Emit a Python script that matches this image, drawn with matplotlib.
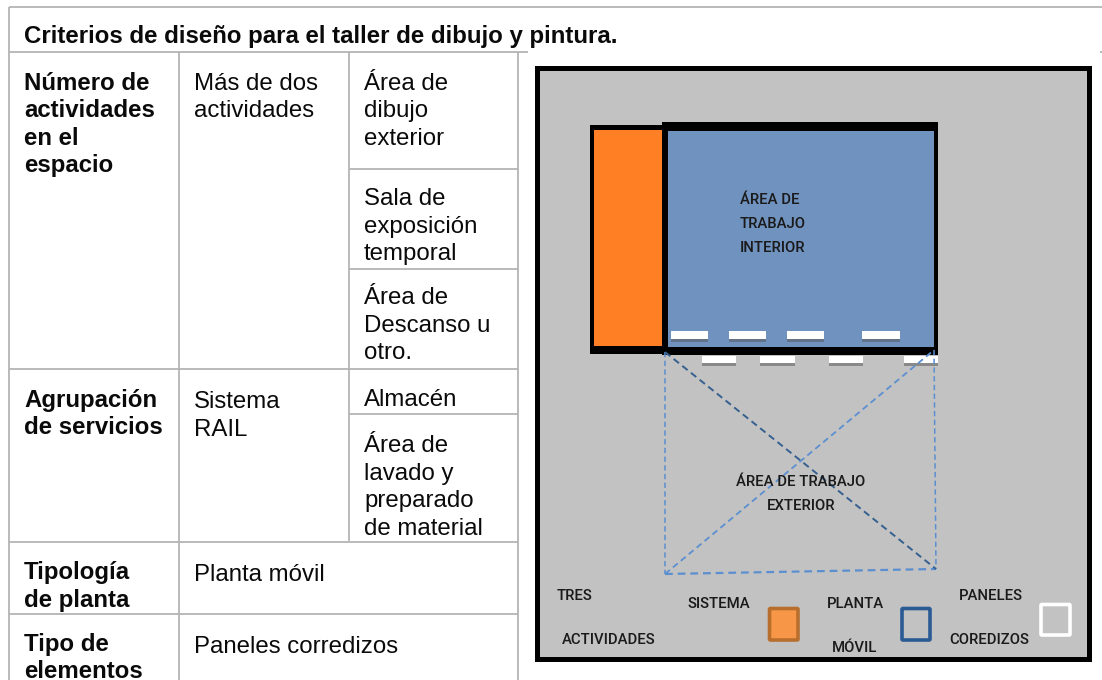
"""Criterios de diseno: tabla y esquema en planta."""
import matplotlib
matplotlib.use("Agg")
import matplotlib.pyplot as plt
from matplotlib.patches import Rectangle, FancyBboxPatch

W, H = 1102, 680
SANS = "Liberation Sans"
LABEL_FONT = "Roboto"
GRID = "#b4b4b4"
BLUE_DASH = "#5b8fd0"

title = "Criterios de diseño para el taller de dibujo y pintura."
bold_cells = ["Número de\nactividades\nen el\nespacio", "Agrupación\nde servicios", "Tipología\nde planta", "Tipo de\nelementos"]
bold_base = [89.5, 406.5, 579, 650.5]
mid_cells = ["Más de dos\nactividades", "Sistema\nRAIL", "Planta móvil", "Paneles corredizos"]
mid_base = [89.5, 408, 581, 653]
right_cells = ["Área de\ndibujo\nexterior", "Sala de\nexposición\ntemporal", "Área de\nDescanso u\notro.", "Almacén", "Área de\nlavado y\npreparado\nde material"]
right_base = [89.5, 205, 304, 406, 452]

# grid lines: (x0, y0, x1, y1)
grid_lines = [
    (9, 7, 1102, 7), (9, 7, 9, 680), (9, 52, 528, 52), (1100, 52, 1102, 52),
    (179, 52, 179, 680), (349, 52, 349, 541), (518, 52, 518, 680),
    (349, 169, 518, 169), (349, 269, 518, 269), (9, 369, 518, 369),
    (349, 414, 518, 414), (9, 541.5, 518, 541.5), (9, 614, 518, 614),
]

orange_room = (594, 130, 68, 216)
blue_room = (668, 131, 266, 216)
black_frames = [(590, 125, 78, 229), (662, 122, 276, 233)]
panels_in = [(671, 331, 37, 8), (729, 331, 37, 8), (787, 331, 37, 8), (862, 331, 38, 8)]
panels_out = [(702, 356, 34, 7), (760, 356, 35, 7), (829, 356, 34, 7), (904, 356, 34, 7)]

ext_corners = {"tl": (665, 352), "tr": (934, 350), "bl": (665, 574), "br": (936, 569)}

plan_labels = [
    ("ÁREA DE", 740, 199, "left"), ("TRABAJO", 740, 223, "left"), ("INTERIOR", 740, 246, "left"),
    ("ÁREA DE TRABAJO", 801, 481, "center"), ("EXTERIOR", 801, 504, "center"),
    ("TRES", 557, 595, "left"), ("ACTIVIDADES", 562, 639, "left"),
    ("SISTEMA", 688, 602, "left"), ("PLANTA", 827, 602, "left"), ("MÓVIL", 832, 647, "left"),
    ("PANELES", 959, 595, "left"), ("COREDIZOS", 949, 639, "left"),
]
# legend squares: (x, y, w, h, fill, edge)
legend_boxes = [
    (769.5, 608.5, 28.5, 31.5, "#f79646", "#b86f2e"),
    (902, 608.5, 28, 31.5, "#c2c2c2", "#2a5a94"),
    (1041, 604.5, 29, 30.5, "#c2c2c2", "#ffffff"),
]

fig = plt.figure(figsize=(W / 100, H / 100), dpi=100)
ax = fig.add_axes([0, 0, 1, 1])
ax.set_xlim(0, W)
ax.set_ylim(H, 0)
ax.axis("off")


def multiline(x, base, txt, weight="normal"):
    for i, line in enumerate(txt.split("\n")):
        ax.text(x, base + i * 27.6, line, family=SANS, fontsize=17.3, fontweight=weight,
                color="#0a0a0a", ha="left", va="baseline")


for x0, y0, x1, y1 in grid_lines:
    ax.plot([x0, x1], [y0, y1], color=GRID, lw=1.3, solid_capstyle="butt")

ax.text(24, 42.5, title, family=SANS, fontsize=17.3, fontweight="bold", color="#0a0a0a", va="baseline")
for txt, base in zip(bold_cells, bold_base):
    multiline(24, base, txt, "bold")
for txt, base in zip(mid_cells, mid_base):
    multiline(194, base, txt)
for txt, base in zip(right_cells, right_base):
    multiline(364, base, txt)

# plano
ax.add_patch(Rectangle((536.5, 67.5), 552, 591, fc="#c2c2c2", ec="black", lw=3.6, zorder=2))
for x, y, w, h in black_frames:
    ax.add_patch(Rectangle((x, y), w, h, fc="black", ec="none", zorder=3))
ax.add_patch(Rectangle(orange_room[:2], *orange_room[2:], fc="#ff8024", ec="none", zorder=4))
ax.add_patch(Rectangle(blue_room[:2], *blue_room[2:], fc="#7092bf", ec="none", zorder=4))
for x, y, w, h in panels_in + panels_out:
    ax.add_patch(Rectangle((x, y + 2.5), w, h, fc="#5a5a5a", ec="none", alpha=0.55, zorder=5))
    ax.add_patch(Rectangle((x, y), w, h, fc="white", ec="none", zorder=6))

tl, tr, bl, br = (ext_corners[k] for k in ("tl", "tr", "bl", "br"))
for a, b, c, lw in [(tl, bl, BLUE_DASH, 1.1), (tr, br, BLUE_DASH, 1.1), (bl, br, BLUE_DASH, 1.6),
                    (bl, tr, BLUE_DASH, 1.3), (tl, br, "#35608f", 1.4)]:
    ax.plot([a[0], b[0]], [a[1], b[1]], color=c, lw=lw, ls=(0, (3.5, 2.2)), zorder=7)

for txt, x, y, ha in plan_labels:
    ax.text(x, y, txt, family=LABEL_FONT, fontsize=10.7, fontweight="medium", color="#1a1a1a",
            ha=ha, va="center_baseline", zorder=8)
for x, y, w, h, fc, ec in legend_boxes:
    ax.add_patch(FancyBboxPatch((x, y), w, h, boxstyle="round,pad=0,rounding_size=1", fc=fc, ec=ec, lw=2.6, zorder=5))

fig.savefig("out.png", dpi=100)
